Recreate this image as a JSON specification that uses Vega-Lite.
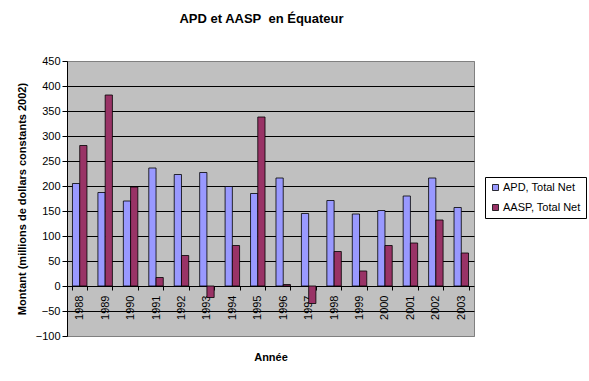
{
  "$schema": "https://vega.github.io/schema/vega-lite/v6.json",
  "autosize": "none",
  "width": 407,
  "height": 275,
  "padding": {"left": 67, "top": 61, "right": 115, "bottom": 45},
  "background": "white",
  "title": {
    "text": "APD et AASP\u00a0 en Équateur",
    "font": "Liberation Sans",
    "fontSize": 13,
    "fontWeight": "bold",
    "color": "black",
    "anchor": "middle",
    "baseline": "alphabetic",
    "offset": 19,
    "dx": -9
  },
  "config": {
    "font": "Liberation Sans",
    "view": {"fill": "#C0C0C0", "stroke": "#808080", "strokeWidth": 1}
  },
  "data": {
    "values": [
      {"annee": "1988", "serie": "APD, Total Net", "montant": 205},
      {"annee": "1988", "serie": "AASP, Total Net", "montant": 281},
      {"annee": "1989", "serie": "APD, Total Net", "montant": 187},
      {"annee": "1989", "serie": "AASP, Total Net", "montant": 382},
      {"annee": "1990", "serie": "APD, Total Net", "montant": 170},
      {"annee": "1990", "serie": "AASP, Total Net", "montant": 198},
      {"annee": "1991", "serie": "APD, Total Net", "montant": 236},
      {"annee": "1991", "serie": "AASP, Total Net", "montant": 17},
      {"annee": "1992", "serie": "APD, Total Net", "montant": 223},
      {"annee": "1992", "serie": "AASP, Total Net", "montant": 61},
      {"annee": "1993", "serie": "APD, Total Net", "montant": 227},
      {"annee": "1993", "serie": "AASP, Total Net", "montant": -23},
      {"annee": "1994", "serie": "APD, Total Net", "montant": 199},
      {"annee": "1994", "serie": "AASP, Total Net", "montant": 81},
      {"annee": "1995", "serie": "APD, Total Net", "montant": 185},
      {"annee": "1995", "serie": "AASP, Total Net", "montant": 338},
      {"annee": "1996", "serie": "APD, Total Net", "montant": 216},
      {"annee": "1996", "serie": "AASP, Total Net", "montant": 3},
      {"annee": "1997", "serie": "APD, Total Net", "montant": 145},
      {"annee": "1997", "serie": "AASP, Total Net", "montant": -35},
      {"annee": "1998", "serie": "APD, Total Net", "montant": 171},
      {"annee": "1998", "serie": "AASP, Total Net", "montant": 69},
      {"annee": "1999", "serie": "APD, Total Net", "montant": 144},
      {"annee": "1999", "serie": "AASP, Total Net", "montant": 30},
      {"annee": "2000", "serie": "APD, Total Net", "montant": 151},
      {"annee": "2000", "serie": "AASP, Total Net", "montant": 81},
      {"annee": "2001", "serie": "APD, Total Net", "montant": 180},
      {"annee": "2001", "serie": "AASP, Total Net", "montant": 86},
      {"annee": "2002", "serie": "APD, Total Net", "montant": 216},
      {"annee": "2002", "serie": "AASP, Total Net", "montant": 132},
      {"annee": "2003", "serie": "APD, Total Net", "montant": 157},
      {"annee": "2003", "serie": "AASP, Total Net", "montant": 66}
    ]
  },
  "mark": {"type": "bar", "stroke": "black", "strokeWidth": 0.8, "cornerRadius": 0},
  "encoding": {
    "x": {
      "field": "annee",
      "type": "nominal",
      "scale": {"paddingInner": 0.43, "paddingOuter": 0.215},
      "axis": {
        "title": "Année",
        "titleFont": "Liberation Sans",
        "titleFontSize": 11,
        "titleFontWeight": "bold",
        "titleColor": "black",
        "titleX": 203.5,
        "titleY": 71,
        "titleBaseline": "middle",
        "offset": -50,
        "domain": false,
        "ticks": true,
        "tickBand": "extent",
        "tickSize": 4,
        "tickColor": "black",
        "labelAngle": -90,
        "labelAlign": "right",
        "labelBaseline": "middle",
        "labelPadding": 5,
        "labelFont": "Liberation Sans",
        "labelFontSize": 11,
        "labelColor": "black"
      }
    },
    "xOffset": {
      "field": "serie",
      "type": "nominal",
      "sort": ["APD, Total Net", "AASP, Total Net"],
      "scale": {"paddingInner": 0, "paddingOuter": 0}
    },
    "y": {
      "field": "montant",
      "type": "quantitative",
      "scale": {"domain": [-100, 450], "nice": false, "zero": false},
      "axis": {
        "values": [-100, -50, 0, 50, 100, 150, 200, 250, 300, 350, 400, 450],
        "title": "Montant (millions de dollars constants 2002)",
        "titleFont": "Liberation Sans",
        "titleFontSize": 11,
        "titleFontWeight": "bold",
        "titleColor": "black",
        "titleAngle": -90,
        "titleX": -45,
        "titleY": 137.5,
        "titleBaseline": "middle",
        "titleAlign": "center",
        "domainColor": "black",
        "tickColor": "black",
        "tickSize": 5,
        "labelPadding": 2,
        "labelFont": "Liberation Sans",
        "labelFontSize": 11,
        "labelColor": "black",
        "grid": true,
        "gridColor": {"condition": {"test": "datum.value == 450 || datum.value == -100", "value": "#808080"}, "value": "black"},
        "gridWidth": 1
      }
    },
    "color": {
      "field": "serie",
      "type": "nominal",
      "scale": {"domain": ["APD, Total Net", "AASP, Total Net"], "range": ["#9999FF", "#993366"]},
      "legend": {
        "title": null,
        "orient": "none",
        "legendX": 418,
        "legendY": 116,
        "fillColor": "white",
        "strokeColor": "black",
        "padding": 5,
        "symbolType": "square",
        "symbolSize": 36,
        "symbolStrokeColor": "black",
        "symbolStrokeWidth": 0.8,
        "labelFont": "Liberation Sans",
        "labelFontSize": 11,
        "labelColor": "black",
        "rowPadding": 8,
        "labelOffset": 2
      }
    }
  }
}
